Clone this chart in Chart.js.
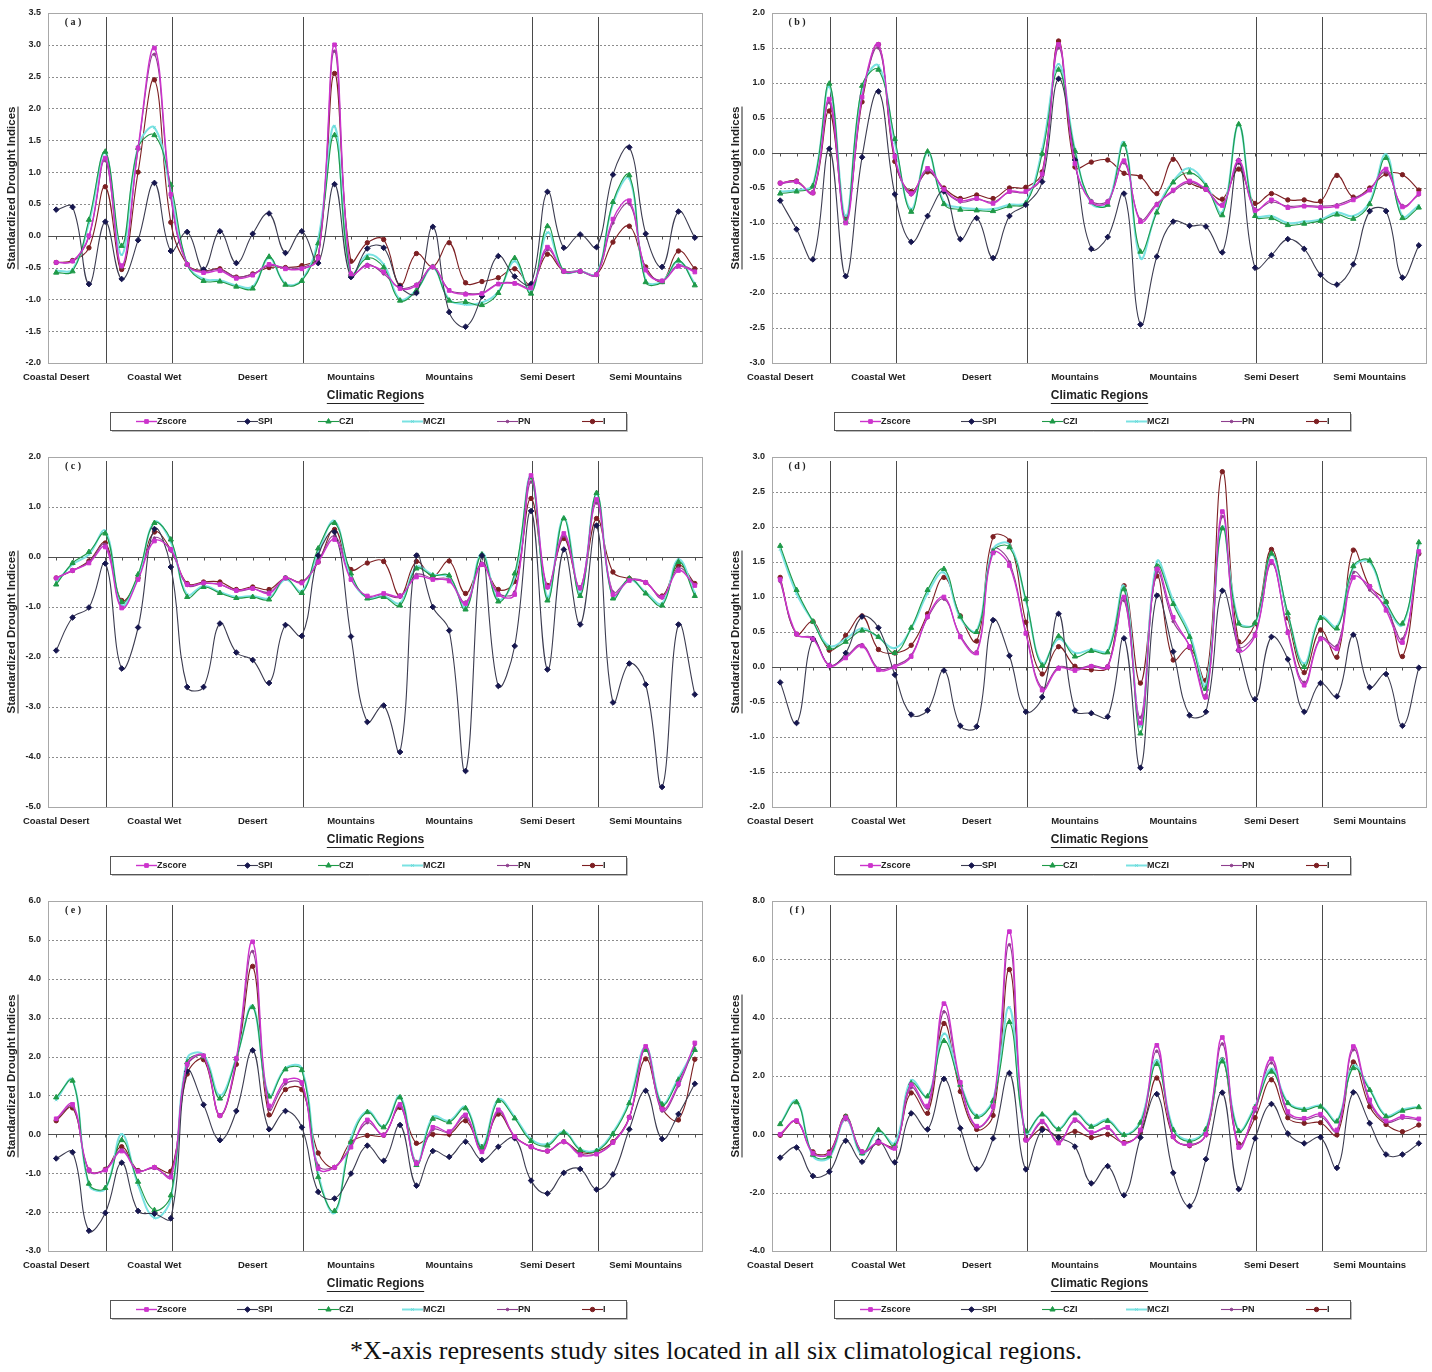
<!DOCTYPE html>
<html>
<head>
<meta charset="utf-8">
<title>Standardized Drought Indices by Climatic Region</title>
<script src="https://cdn.jsdelivr.net/npm/chart.js@4.4.1/dist/chart.umd.min.js"></script>
<style>
  body { margin: 0; background: #fff; }
  #page { position: relative; width: 1432px; height: 1372px; overflow: hidden; }
  .panel { position: absolute; }
  #note {
    position: absolute; left: 0; top: 1336px; width: 1432px;
    text-align: center; color: #111;
    font: 26px "Liberation Serif", "Times New Roman", serif;
  }
</style>
</head>
<body>
<div id="page">
  <canvas id="panelA" class="panel" width="708" height="440" style="left:0;top:0"></canvas>
  <canvas id="panelB" class="panel" width="708" height="440" style="left:724px;top:0"></canvas>
  <canvas id="panelC" class="panel" width="708" height="440" style="left:0;top:444px"></canvas>
  <canvas id="panelD" class="panel" width="708" height="440" style="left:724px;top:444px"></canvas>
  <canvas id="panelE" class="panel" width="708" height="440" style="left:0;top:888px"></canvas>
  <canvas id="panelF" class="panel" width="708" height="440" style="left:724px;top:888px"></canvas>
  <div id="note">*X-axis represents study sites located in all six climatological regions.</div>
</div>
<script>
// categories: study sites grouped by climatic region
const seriesNames = ['Zscore', 'SPI', 'CZI', 'MCZI', 'PN', 'I'];
const regionNames = ['Coastal Desert', 'Coastal Wet', 'Desert', 'Mountains', 'Semi Desert', 'Semi Mountains'];
const sitesPerRegion = [4, 4, 8, 14, 4, 6];
const labelEvery = 6;

// y axis [min, max, step] for each panel
const yAxisA = [-2.0, 3.5, 0.5];
const yAxisB = [-3.0, 2.0, 0.5];
const yAxisC = [-5.0, 2.0, 1.0];
const yAxisD = [-2.0, 3.0, 0.5];
const yAxisE = [-3.0, 6.0, 1.0];
const yAxisF = [-4.0, 8.0, 2.0];

// panel (a)
const zscoreA = [-0.42,-0.40,0.00,1.22,-0.47,1.38,2.95,0.65,-0.45,-0.58,-0.55,-0.67,-0.62,-0.45,-0.52,-0.52,-0.35,3.00,-0.60,-0.47,-0.57,-0.83,-0.78,-0.49,-0.86,-0.92,-0.91,-0.76,-0.75,-0.82,-0.18,-0.56,-0.56,-0.61,0.26,0.55,-0.54,-0.71,-0.48,-0.57];
const spiA    = [0.41,0.45,-0.76,0.22,-0.68,-0.07,0.83,-0.24,0.06,-0.53,0.07,-0.43,0.03,0.35,-0.27,0.07,-0.43,0.81,-0.65,-0.20,-0.19,-0.80,-0.90,0.14,-1.20,-1.43,-0.95,-0.32,-0.64,-0.76,0.69,-0.19,0.02,-0.18,0.96,1.39,0.03,-0.49,0.38,-0.03];
const cziA    = [-0.58,-0.56,0.25,1.32,-0.16,1.38,1.58,0.80,-0.45,-0.71,-0.72,-0.80,-0.83,-0.33,-0.77,-0.71,-0.12,1.58,-0.60,-0.35,-0.50,-1.02,-0.86,-0.49,-1.02,-1.04,-1.09,-0.90,-0.35,-0.91,0.15,-0.56,-0.56,-0.61,0.53,0.95,-0.73,-0.73,-0.39,-0.78];
const mcziA   = [-0.55,-0.53,0.20,1.30,-0.30,1.40,1.70,0.70,-0.45,-0.68,-0.70,-0.78,-0.80,-0.35,-0.75,-0.70,-0.05,1.72,-0.62,-0.30,-0.45,-1.00,-0.85,-0.50,-1.00,-1.08,-1.05,-0.88,-0.40,-0.88,0.05,-0.56,-0.56,-0.60,0.50,0.90,-0.70,-0.72,-0.40,-0.75];
const pnA     = [-0.42,-0.40,-0.02,1.18,-0.50,1.35,2.85,0.60,-0.46,-0.56,-0.53,-0.65,-0.60,-0.47,-0.50,-0.50,-0.33,2.90,-0.62,-0.45,-0.60,-0.82,-0.76,-0.50,-0.85,-0.90,-0.90,-0.75,-0.74,-0.80,-0.22,-0.55,-0.55,-0.60,0.20,0.50,-0.52,-0.70,-0.46,-0.55];
const iIndexA = [-0.42,-0.39,-0.19,0.77,-0.53,1.00,2.45,0.21,-0.45,-0.55,-0.52,-0.65,-0.60,-0.50,-0.50,-0.47,-0.33,2.55,-0.40,-0.11,-0.06,-0.78,-0.28,-0.49,-0.11,-0.74,-0.72,-0.66,-0.52,-0.78,-0.29,-0.56,-0.56,-0.61,-0.10,0.15,-0.49,-0.72,-0.24,-0.52];

// panel (b)
const zscoreB = [-0.43,-0.41,-0.57,0.77,-1.00,0.80,1.55,-0.05,-0.58,-0.22,-0.52,-0.68,-0.65,-0.72,-0.55,-0.55,-0.30,1.55,-0.15,-0.70,-0.70,-0.11,-0.98,-0.74,-0.53,-0.40,-0.52,-0.75,-0.11,-0.82,-0.67,-0.78,-0.76,-0.78,-0.76,-0.67,-0.53,-0.23,-0.77,-0.58];
const spiB    = [-0.68,-1.09,-1.52,0.06,-1.76,-0.06,0.88,-0.59,-1.27,-0.90,-0.55,-1.23,-0.93,-1.50,-0.90,-0.74,-0.41,1.06,-0.10,-1.37,-1.20,-0.58,-2.45,-1.48,-0.98,-1.04,-1.05,-1.42,-0.11,-1.64,-1.46,-1.23,-1.37,-1.74,-1.88,-1.59,-0.83,-0.83,-1.78,-1.32];
const cziB    = [-0.58,-0.55,-0.47,0.99,-0.97,0.96,1.19,0.20,-0.84,0.02,-0.73,-0.81,-0.82,-0.83,-0.76,-0.72,-0.01,1.19,0.03,-0.70,-0.74,0.12,-1.41,-0.85,-0.42,-0.28,-0.47,-0.89,0.41,-0.90,-0.93,-1.03,-1.01,-0.97,-0.88,-0.94,-0.73,-0.07,-0.93,-0.78];
const mcziB   = [-0.55,-0.53,-0.45,0.95,-0.90,0.92,1.25,0.15,-0.80,0.00,-0.70,-0.78,-0.80,-0.80,-0.74,-0.70,0.05,1.27,0.05,-0.72,-0.72,0.15,-1.50,-0.82,-0.40,-0.22,-0.45,-0.85,0.40,-0.88,-0.90,-1.00,-0.98,-0.95,-0.85,-0.90,-0.70,-0.02,-0.90,-0.75];
const pnB     = [-0.44,-0.42,-0.55,0.72,-0.95,0.78,1.50,-0.08,-0.60,-0.25,-0.53,-0.70,-0.66,-0.70,-0.56,-0.56,-0.32,1.50,-0.17,-0.68,-0.68,-0.14,-0.95,-0.72,-0.55,-0.42,-0.53,-0.73,-0.15,-0.80,-0.70,-0.76,-0.75,-0.76,-0.74,-0.65,-0.52,-0.27,-0.75,-0.60];
const iIndexB = [-0.43,-0.40,-0.57,0.60,-0.92,0.73,1.55,-0.12,-0.55,-0.27,-0.50,-0.65,-0.60,-0.65,-0.50,-0.49,-0.27,1.60,-0.20,-0.13,-0.10,-0.29,-0.34,-0.58,-0.09,-0.42,-0.52,-0.66,-0.23,-0.72,-0.58,-0.67,-0.67,-0.69,-0.32,-0.63,-0.50,-0.30,-0.31,-0.53];

// panel (c)
const zscoreC = [-0.42,-0.27,-0.12,0.20,-1.02,-0.45,0.32,0.15,-0.55,-0.52,-0.55,-0.67,-0.63,-0.73,-0.42,-0.52,-0.10,0.35,-0.45,-0.78,-0.73,-0.78,-0.40,-0.45,-0.48,-0.93,-0.15,-0.75,-0.75,1.63,-0.60,0.47,-0.62,1.15,-0.75,-0.47,-0.51,-0.80,-0.27,-0.57];
const spiC    = [-1.87,-1.21,-1.01,-0.13,-2.23,-1.41,0.56,-0.20,-2.60,-2.60,-1.33,-1.91,-2.06,-2.52,-1.36,-1.58,0.03,0.50,-1.59,-3.30,-2.97,-3.90,0.03,-1.00,-1.47,-4.28,0.03,-2.58,-1.78,0.92,-2.25,0.15,-1.35,0.63,-2.91,-2.13,-2.55,-4.60,-1.35,-2.75];
const cziC    = [-0.55,-0.12,0.10,0.47,-0.90,-0.35,0.68,0.35,-0.80,-0.60,-0.72,-0.82,-0.80,-0.85,-0.42,-0.72,0.17,0.68,-0.33,-0.83,-0.80,-0.97,-0.23,-0.37,-0.37,-1.05,0.05,-0.89,-0.33,1.59,-0.87,0.77,-0.78,1.28,-0.83,-0.43,-0.73,-0.97,-0.10,-0.78];
const mcziC   = [-0.50,-0.15,0.05,0.52,-0.95,-0.40,0.70,0.30,-0.75,-0.58,-0.70,-0.80,-0.78,-0.82,-0.45,-0.68,0.10,0.72,-0.40,-0.82,-0.78,-0.92,-0.20,-0.35,-0.40,-1.00,0.08,-0.85,-0.40,1.62,-0.80,0.80,-0.72,1.25,-0.80,-0.45,-0.70,-0.93,-0.05,-0.72];
const pnC     = [-0.42,-0.27,-0.10,0.25,-0.98,-0.42,0.38,0.12,-0.57,-0.53,-0.55,-0.68,-0.64,-0.70,-0.43,-0.50,-0.08,0.42,-0.42,-0.80,-0.75,-0.80,-0.35,-0.43,-0.45,-0.90,-0.12,-0.72,-0.70,1.50,-0.62,0.42,-0.60,1.08,-0.70,-0.45,-0.50,-0.82,-0.22,-0.55];
const iIndexC = [-0.42,-0.27,-0.08,0.28,-0.87,-0.42,0.50,0.15,-0.53,-0.50,-0.50,-0.65,-0.60,-0.65,-0.42,-0.50,-0.10,0.55,-0.25,-0.12,-0.09,-0.78,-0.09,-0.39,-0.08,-0.73,-0.15,-0.65,-0.49,1.17,-0.57,0.37,-0.62,0.77,-0.30,-0.43,-0.51,-0.78,-0.17,-0.53];

// panel (d)
const zscoreD = [1.25,0.47,0.40,0.02,0.13,0.30,-0.04,0.00,0.15,0.72,1.00,0.43,0.20,1.63,1.45,0.48,-0.33,-0.02,-0.05,0.01,0.00,1.00,-0.80,1.40,0.71,0.29,-0.43,2.22,0.24,0.45,1.51,0.49,-0.26,0.40,0.26,1.28,1.15,0.81,0.35,1.65];
const spiD    = [-0.22,-0.80,0.40,0.02,0.20,0.72,0.56,-0.11,-0.68,-0.62,-0.05,-0.84,-0.85,0.67,0.16,-0.64,-0.43,0.76,-0.62,-0.66,-0.71,0.41,-1.44,1.02,0.22,-0.69,-0.64,1.09,0.24,-0.46,0.43,0.11,-0.64,-0.23,-0.42,0.46,-0.29,-0.10,-0.84,-0.01];
const cziD    = [1.73,1.10,0.65,0.27,0.36,0.52,0.43,0.20,0.56,1.10,1.40,0.72,0.50,1.65,1.71,0.97,0.02,0.44,0.15,0.23,0.21,1.11,-0.95,1.44,0.90,0.43,-0.31,1.98,0.62,0.63,1.62,0.77,0.00,0.70,0.55,1.44,1.52,0.93,0.62,1.78];
const mcziD   = [1.68,1.05,0.65,0.30,0.40,0.55,0.42,0.27,0.55,1.05,1.35,0.70,0.52,1.68,1.75,0.95,0.05,0.40,0.20,0.25,0.23,1.15,-0.85,1.50,0.95,0.48,-0.25,2.00,0.65,0.62,1.60,0.75,0.05,0.72,0.58,1.42,1.50,0.90,0.60,1.75];
const pnD     = [1.22,0.46,0.42,0.03,0.15,0.32,-0.02,0.02,0.17,0.70,0.97,0.45,0.22,1.68,1.50,0.50,-0.30,0.00,-0.03,0.02,0.02,0.95,-0.72,1.35,0.65,0.30,-0.40,2.15,0.30,0.48,1.48,0.52,-0.22,0.42,0.30,1.35,1.10,0.85,0.40,1.60];
const iIndexD = [1.28,0.47,0.65,0.24,0.45,0.73,0.25,0.20,0.31,0.76,1.28,0.73,0.37,1.86,1.80,0.64,-0.10,0.29,0.01,-0.04,0.00,1.16,-0.23,1.30,0.10,0.28,-0.19,2.79,0.36,0.62,1.68,0.70,-0.08,0.53,0.14,1.67,1.15,0.93,0.15,1.62];

// panel (e)
const zscoreE = [0.40,0.77,-0.92,-0.92,-0.43,-0.95,-0.85,-1.10,1.80,2.02,0.48,1.95,4.95,0.73,1.38,1.33,-0.88,-0.85,-0.33,0.37,-0.02,0.77,-0.75,0.18,0.07,0.50,-0.45,0.63,-0.06,-0.32,-0.43,-0.19,-0.53,-0.51,-0.21,0.43,2.26,0.65,1.30,2.35];
const spiE    = [-0.62,-0.46,-2.48,-2.02,-0.73,-1.97,-2.04,-2.16,1.62,0.76,-0.15,0.60,2.16,0.13,0.60,0.18,-1.48,-1.65,-1.01,-0.29,-0.68,0.24,-1.32,-0.43,-0.58,-0.19,-0.66,-0.32,-0.10,-1.19,-1.52,-0.99,-0.89,-1.42,-1.03,0.13,1.12,-0.12,0.52,1.30];
const cziE    = [0.95,1.38,-1.27,-1.38,-0.15,-1.22,-1.95,-1.57,1.85,2.00,0.92,1.95,3.27,0.97,1.67,1.65,-1.10,-1.97,-0.20,0.57,0.18,0.95,-0.79,0.40,0.31,0.67,-0.34,0.86,0.41,-0.17,-0.29,0.05,-0.40,-0.43,0.01,0.80,2.17,0.77,1.40,2.17];
const mcziE   = [0.88,1.40,-1.30,-1.40,0.00,-1.30,-2.15,-1.65,1.95,2.05,1.00,1.97,3.30,1.00,1.70,1.70,-1.00,-2.02,-0.10,0.60,0.20,0.98,-0.75,0.45,0.35,0.70,-0.30,0.90,0.45,-0.12,-0.25,0.08,-0.38,-0.40,0.05,0.85,2.25,0.80,1.45,2.20];
const pnE     = [0.38,0.72,-0.95,-0.90,-0.40,-0.93,-0.87,-1.05,1.75,2.00,0.50,1.90,4.70,0.65,1.30,1.28,-0.80,-0.83,-0.30,0.30,0.00,0.72,-0.70,0.12,0.05,0.45,-0.42,0.58,-0.05,-0.33,-0.44,-0.20,-0.50,-0.50,-0.22,0.42,2.20,0.60,1.25,2.30];
const iIndexE = [0.35,0.68,-0.92,-0.90,-0.32,-0.93,-0.85,-0.95,1.55,1.92,0.48,1.80,4.32,0.50,1.15,1.15,-0.48,-0.85,-0.20,-0.03,-0.02,0.69,-0.23,0.00,0.00,0.35,-0.32,0.52,-0.06,-0.32,-0.43,-0.19,-0.46,-0.45,-0.19,0.44,1.94,0.67,0.37,1.93];

// panel (f)
const zscoreF = [0.00,0.47,-0.65,-0.65,0.57,-0.60,-0.27,-0.48,1.70,0.97,4.48,1.78,0.28,0.95,6.95,-0.20,0.45,-0.30,0.50,0.06,0.24,-0.31,0.15,3.05,-0.08,-0.37,0.00,3.32,-0.45,0.89,2.59,0.78,0.55,0.69,0.15,3.01,1.18,0.46,0.61,0.53];
const spiF    = [-0.80,-0.45,-1.43,-1.28,-0.22,-0.94,-0.23,-0.96,0.72,0.17,1.90,0.21,-1.19,-0.14,2.10,-1.20,0.15,-0.11,-0.42,-1.68,-1.09,-2.09,-0.11,1.38,-1.32,-2.46,-0.85,1.43,-1.88,-0.14,1.04,0.03,-0.31,-0.10,-1.15,1.44,0.38,-0.69,-0.69,-0.31];
const cziF    = [0.35,1.10,-0.70,-0.75,0.60,-0.65,0.15,-0.40,1.75,1.30,3.20,1.70,0.60,1.15,3.85,0.10,0.68,0.17,0.72,0.26,0.46,-0.02,0.40,2.41,0.15,-0.25,0.17,2.50,0.11,0.93,2.15,1.07,0.84,0.95,0.44,2.27,1.52,0.61,0.81,0.93];
const mcziF   = [0.35,1.15,-0.75,-0.80,0.55,-0.70,0.10,-0.30,1.85,1.30,3.45,1.75,0.65,1.20,4.35,0.05,0.70,0.20,0.75,0.30,0.50,0.00,0.45,2.55,0.20,-0.20,0.20,2.60,0.15,0.98,2.25,1.10,0.88,0.98,0.48,2.35,1.55,0.65,0.85,0.95];
const pnF     = [0.02,0.45,-0.62,-0.68,0.50,-0.62,-0.30,-0.45,1.60,0.90,4.20,1.70,0.25,0.90,6.50,-0.22,0.40,-0.25,0.45,0.05,0.20,-0.30,0.12,2.85,-0.10,-0.35,0.00,3.10,-0.35,0.80,2.45,0.70,0.50,0.62,0.10,2.90,1.10,0.42,0.55,0.50];
const iIndexF = [-0.03,0.45,-0.60,-0.60,0.62,-0.60,-0.30,-0.40,1.42,0.72,3.80,1.47,0.17,0.65,5.65,-0.17,0.20,-0.10,0.10,-0.11,0.00,-0.28,0.07,1.93,-0.08,-0.39,0.00,2.56,-0.33,0.57,1.87,0.57,0.38,0.40,-0.02,2.48,0.95,0.34,0.09,0.32];

const panels = [
  { id: 'panelA', tag: 'a', yAxis: yAxisA, series: [zscoreA, spiA, cziA, mcziA, pnA, iIndexA] },
  { id: 'panelB', tag: 'b', yAxis: yAxisB, series: [zscoreB, spiB, cziB, mcziB, pnB, iIndexB] },
  { id: 'panelC', tag: 'c', yAxis: yAxisC, series: [zscoreC, spiC, cziC, mcziC, pnC, iIndexC] },
  { id: 'panelD', tag: 'd', yAxis: yAxisD, series: [zscoreD, spiD, cziD, mcziD, pnD, iIndexD] },
  { id: 'panelE', tag: 'e', yAxis: yAxisE, series: [zscoreE, spiE, cziE, mcziE, pnE, iIndexE] },
  { id: 'panelF', tag: 'f', yAxis: yAxisF, series: [zscoreF, spiF, cziF, mcziF, pnF, iIndexF] }
];

// site labels and the region boundaries (last site of each region)
const siteLabels = [];
const dividers = [];
regionNames.forEach((name, r) => {
  for (let k = 0; k < sitesPerRegion[r]; k++) siteLabels.push(name);
  if (r < regionNames.length - 1) dividers.push(siteLabels.length - 1);
});

const seriesStyle = {
  Zscore: { line: '#cc33cc', fill: '#cc33cc', point: 'rect',     radius: 2.6, width: 1.4 },
  SPI:    { line: '#3c3c50', fill: '#16164e', point: 'rectRot',  radius: 2.8, width: 1.1 },
  CZI:    { line: '#1f9a48', fill: '#1f9a48', point: 'triangle', radius: 3.0, width: 1.1 },
  MCZI:   { line: '#7ae2e2', fill: '#5fd6d6', point: 'crossRot', radius: 1.6, width: 2.0 },
  PN:     { line: '#8e3f8e', fill: '#8e3f8e', point: 'circle',   radius: 1.3, width: 1.1 },
  I:      { line: '#7d1f22', fill: '#7d1f22', point: 'circle',   radius: 2.2, width: 1.1 }
};

const sansBold = (size) => 'bold ' + size + 'px "Liberation Sans", Arial, sans-serif';
const legendLineStart = [136, 237, 318, 402, 497, 582];

// draws grid, frame, zero axis, region dividers, titles, legend and panel tag
const decor = {
  id: 'decor',
  beforeDatasetsDraw(chart) {
    const { ctx, chartArea: a, scales: { x, y } } = chart;
    ctx.save();
    ctx.lineWidth = 1;
    ctx.strokeStyle = '#8c8c8c';
    ctx.setLineDash([2, 2]);
    y.ticks.forEach(t => {
      if (Math.abs(t.value) < 1e-9 || t.value <= y.min || t.value >= y.max) return;
      const py = Math.round(y.getPixelForValue(t.value)) + 0.5;
      ctx.beginPath(); ctx.moveTo(a.left, py); ctx.lineTo(a.right, py); ctx.stroke();
    });
    ctx.setLineDash([]);
    ctx.strokeStyle = '#a8a8a8';
    ctx.strokeRect(a.left + 0.5, a.top + 0.5, a.width - 1, a.height);

    const y0 = Math.round(y.getPixelForValue(0)) + 0.5;
    ctx.strokeStyle = '#505050';
    ctx.beginPath(); ctx.moveTo(a.left, y0); ctx.lineTo(a.right, y0); ctx.stroke();
    siteLabels.forEach((_, i) => {
      const px = Math.round(x.getPixelForValue(i)) + 0.5;
      ctx.beginPath(); ctx.moveTo(px, y0); ctx.lineTo(px, y0 + 3); ctx.stroke();
    });

    ctx.strokeStyle = '#4a4a4a';
    dividers.forEach(i => {
      const px = Math.round(x.getPixelForValue(i)) + 1.5;
      ctx.beginPath(); ctx.moveTo(px, a.top + 4); ctx.lineTo(px, a.bottom); ctx.stroke();
    });
    ctx.restore();
  },
  afterDraw(chart, args, opts) {
    const { ctx, chartArea: a } = chart;
    ctx.save();
    ctx.fillStyle = '#222';
    ctx.strokeStyle = '#222';

    // panel tag
    ctx.font = 'bold 10px "Liberation Serif", "Times New Roman", serif';
    ctx.textAlign = 'center';
    ctx.textBaseline = 'middle';
    ctx.fillText('( ' + opts.tag + ' )', a.left + 25, a.top + 9);

    // y title, rotated and underlined
    const yTitle = 'Standardized Drought Indices';
    ctx.font = sansBold(11.5);
    const yw = ctx.measureText(yTitle).width;
    const cy = (a.top + a.bottom) / 2;
    ctx.save();
    ctx.translate(11.5, cy);
    ctx.rotate(-Math.PI / 2);
    ctx.fillText(yTitle, 0, 0);
    ctx.lineWidth = 1;
    ctx.beginPath(); ctx.moveTo(-yw / 2, 6.5); ctx.lineTo(yw / 2, 6.5); ctx.stroke();
    ctx.restore();

    // x title, underlined
    const xTitle = 'Climatic Regions';
    ctx.font = sansBold(12);
    const xw = ctx.measureText(xTitle).width;
    const cx = (a.left + a.right) / 2;
    const ty = a.bottom + 33;
    ctx.fillText(xTitle, cx, ty);
    ctx.lineWidth = 1;
    ctx.beginPath(); ctx.moveTo(cx - xw / 2, ty + 7.5); ctx.lineTo(cx + xw / 2, ty + 7.5); ctx.stroke();

    // legend box
    const lx = 110, ly = a.bottom + 49, lw = 516, lh = 18;
    ctx.fillStyle = '#ffffff';
    ctx.fillRect(lx, ly, lw, lh);
    ctx.strokeStyle = '#555';
    ctx.strokeRect(lx + 0.5, ly + 0.5, lw, lh);
    ctx.strokeStyle = '#bbb';
    ctx.beginPath(); ctx.moveTo(lx + 2, ly + lh + 1.5); ctx.lineTo(lx + lw + 1.5, ly + lh + 1.5); ctx.lineTo(lx + lw + 1.5, ly + 2); ctx.stroke();

    const my = ly + lh / 2 + 0.5;
    chart.data.datasets.forEach((ds, i) => {
      const sx = lx + legendLineStart[i] - 110;
      ctx.strokeStyle = ds.borderColor;
      ctx.lineWidth = ds.borderWidth;
      ctx.beginPath(); ctx.moveTo(sx, my); ctx.lineTo(sx + 21, my); ctx.stroke();
      ctx.fillStyle = ds.pointBackgroundColor;
      ctx.strokeStyle = ds.pointBorderColor;
      ctx.lineWidth = 1;
      if (Chart.helpers && Chart.helpers.drawPoint) {
        Chart.helpers.drawPoint(ctx, { pointStyle: ds.pointStyle, radius: ds.pointRadius, borderWidth: 1, rotation: 0 }, sx + 10.5, my);
      }
      ctx.fillStyle = '#222';
      ctx.font = sansBold(9);
      ctx.textAlign = 'left';
      ctx.fillText(ds.label, sx + 21, my);
    });
    ctx.restore();
  }
};

function makePanel(p) {
  const datasets = seriesNames.map((name, i) => {
    const st = seriesStyle[name];
    return {
      label: name,
      data: p.series[i],
      borderColor: st.line,
      backgroundColor: st.fill,
      pointBackgroundColor: st.fill,
      pointBorderColor: st.fill,
      pointStyle: st.point,
      pointRadius: st.radius,
      pointBorderWidth: 1,
      borderWidth: st.width,
      tension: 0.4,
      fill: false
    };
  });

  new Chart(document.getElementById(p.id), {
    type: 'line',
    data: { labels: siteLabels, datasets: datasets },
    options: {
      responsive: false,
      animation: false,
      layout: { padding: { top: 13, right: 5, left: 0, bottom: 0 } },
      plugins: {
        legend: { display: false },
        tooltip: { enabled: false },
        decor: { tag: p.tag }
      },
      scales: {
        x: {
          type: 'category',
          offset: true,
          grid: { display: false, drawTicks: false, offset: true },
          border: { display: false },
          afterFit: (s) => { s.height = 77; },
          ticks: {
            autoSkip: false,
            maxRotation: 0,
            minRotation: 0,
            padding: 9,
            color: '#222',
            font: { family: '"Liberation Sans", Arial, sans-serif', size: 9.5, weight: 'bold' },
            callback: (val, i) => (i % labelEvery === 0 ? siteLabels[i] : '')
          }
        },
        y: {
          min: p.yAxis[0],
          max: p.yAxis[1],
          grid: { display: false, drawTicks: false },
          border: { display: false },
          afterFit: (s) => { s.width = 48; },
          ticks: {
            stepSize: p.yAxis[2],
            padding: 7,
            color: '#222',
            font: { family: '"Liberation Sans", Arial, sans-serif', size: 9, weight: 'bold' },
            callback: (v) => Number(v).toFixed(1)
          }
        }
      }
    },
    plugins: [decor]
  });
}

panels.forEach(makePanel);
</script>
</body>
</html>
